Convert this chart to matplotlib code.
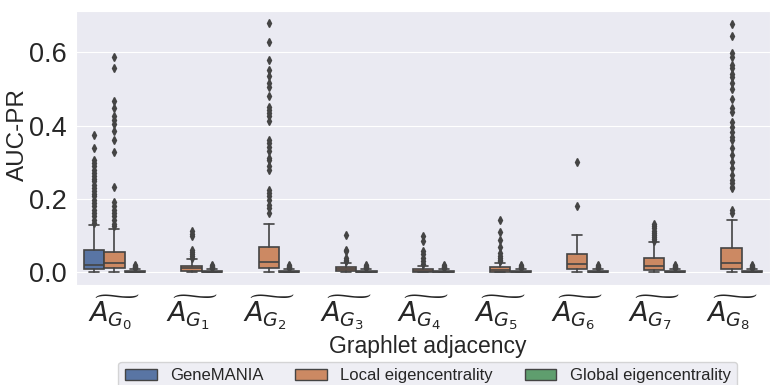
import matplotlib
matplotlib.use("Agg")
import matplotlib.pyplot as plt
import matplotlib.patches as mpatches
import seaborn as sns

sns.set_style("darkgrid")
plt.rcParams['font.family'] = ['Liberation Sans', 'DejaVu Sans']

categories = [r'$\widetilde{A_{G_%d}}$' % i for i in range(9)]
methods = ['GeneMANIA', 'Local eigencentrality', 'Global eigencentrality']

# GeneMANIA only has values for the first graphlet adjacency
gm_stats = {
    0: dict(whislo=0.0, q1=0.008, med=0.020, q3=0.060, whishi=0.130,
            fliers=[0.374, 0.340, 0.307, 0.298, 0.289, 0.280, 0.271, 0.262, 0.255, 0.248,
                    0.239, 0.230, 0.221, 0.214, 0.207, 0.198, 0.189, 0.180, 0.171, 0.162,
                    0.153, 0.144, 0.135]),
}

# local eigencentrality, one entry per graphlet adjacency
local_q1 = [0.012, 0.004, 0.013, 0.004, 0.002, 0.002, 0.010, 0.007, 0.010]
local_med = [0.027, 0.012, 0.029, 0.009, 0.005, 0.007, 0.022, 0.017, 0.025]
local_q3 = [0.055, 0.018, 0.069, 0.014, 0.010, 0.014, 0.051, 0.040, 0.067]
local_lo = [0.002, 0.001, 0.001, 0.001, 0.0, 0.0, 0.001, 0.001, 0.001]
local_hi = [0.118, 0.037, 0.133, 0.026, 0.017, 0.026, 0.102, 0.082, 0.144]
local_fliers = [
    [0.587, 0.557, 0.468, 0.449, 0.425, 0.416, 0.405, 0.386, 0.360, 0.327, 0.234,
     0.192, 0.180, 0.171, 0.162, 0.153, 0.144, 0.133, 0.126],
    [0.112, 0.106, 0.099, 0.060, 0.055, 0.050, 0.045, 0.040],
    [0.679, 0.627, 0.578, 0.553, 0.535, 0.517, 0.505, 0.481, 0.452, 0.443, 0.434,
     0.425, 0.414, 0.361, 0.352, 0.343, 0.330, 0.312, 0.307, 0.289, 0.280, 0.225,
     0.216, 0.207, 0.198, 0.185, 0.176, 0.162],
    [0.103, 0.062, 0.058, 0.040, 0.035, 0.031],
    [0.100, 0.085, 0.058, 0.049, 0.040, 0.030, 0.022],
    [0.142, 0.109, 0.088, 0.069, 0.053, 0.046, 0.040, 0.035, 0.031],
    [0.300, 0.181],
    [0.133, 0.126, 0.120, 0.114, 0.108, 0.102, 0.096, 0.090, 0.085],
    [0.678, 0.644, 0.598, 0.587, 0.565, 0.556, 0.540, 0.533, 0.517, 0.501, 0.473,
     0.447, 0.438, 0.411, 0.397, 0.384, 0.370, 0.361, 0.340, 0.320, 0.300, 0.284,
     0.266, 0.252, 0.243, 0.234, 0.230, 0.171, 0.162],
]

# global eigencentrality
glob_q1 = [0.001] * 9
glob_med = [0.002] * 9
glob_q3 = [0.005, 0.004, 0.004, 0.004, 0.004, 0.004, 0.004, 0.004, 0.004]
glob_lo = [0.0] * 9
glob_hi = [0.010, 0.008, 0.008, 0.008, 0.008, 0.008, 0.008, 0.008, 0.008]
glob_fliers = [[0.012, 0.014, 0.016, 0.018, 0.020]] * 9

pal = [sns.desaturate(c, 0.75) for c in sns.color_palette('deep', 3)]
line_c = '#444444'

fig = plt.figure(figsize=(7.74, 3.85), dpi=100)
ax = fig.add_axes([0.098, 0.26, 0.897, 0.711])

w = 0.8 / 3
offs = [-w, 0, w]


def draw(stats, pos, color):
    ax.bxp(stats, positions=pos, widths=w * 0.98, patch_artist=True,
           boxprops=dict(facecolor=color, edgecolor=line_c, linewidth=1.2),
           medianprops=dict(color=line_c, linewidth=1.2),
           whiskerprops=dict(color=line_c, linewidth=1.2),
           capprops=dict(color=line_c, linewidth=1.2),
           flierprops=dict(marker='d', markersize=4, markerfacecolor=line_c,
                           markeredgecolor=line_c, linestyle='none'),
           manage_ticks=False)


draw([gm_stats[0]], [0 + offs[0]], pal[0])
loc = [dict(whislo=local_lo[i], q1=local_q1[i], med=local_med[i], q3=local_q3[i],
            whishi=local_hi[i], fliers=local_fliers[i]) for i in range(9)]
draw(loc, [i + offs[1] for i in range(9)], pal[1])
glb = [dict(whislo=glob_lo[i], q1=glob_q1[i], med=glob_med[i], q3=glob_q3[i],
            whishi=glob_hi[i], fliers=glob_fliers[i]) for i in range(9)]
draw(glb, [i + offs[2] for i in range(9)], pal[2])

ax.set_xlim(-0.5, 8.5)
ax.set_ylim(-0.034, 0.712)
ax.set_xticks(range(9))
ax.set_xticklabels(categories, fontsize=19.5)
ax.set_yticks([0.0, 0.2, 0.4, 0.6])
ax.set_yticklabels(['0.0', '0.2', '0.4', '0.6'], fontsize=19.5)
ax.xaxis.grid(False)
ax.tick_params(length=0)
ax.tick_params(axis='y', pad=6.5)
ax.tick_params(axis='x', pad=6)
ax.set_xlabel('Graphlet adjacency', fontsize=16.5)
ax.xaxis.set_label_coords(0.507, -0.183)
ax.xaxis.label.set_va('top')
ax.set_ylabel('AUC-PR', fontsize=17.5)
ax.yaxis.set_label_coords(-0.068, 0.55)

handles = [mpatches.Patch(facecolor=pal[k], edgecolor=line_c, linewidth=1, label=methods[k])
           for k in range(3)]
ax.legend(handles=handles, loc='upper center', bbox_to_anchor=(0.507, -0.281),
          ncol=3, fontsize=12, frameon=True, handlelength=1.9, columnspacing=1.9,
          borderaxespad=0)

fig.savefig('out.png', dpi=100)
